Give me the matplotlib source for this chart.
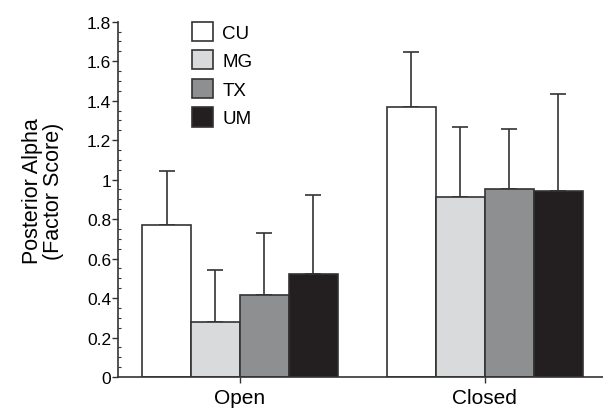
import numpy as np
import matplotlib
matplotlib.use("Agg")
import matplotlib.pyplot as plt
from matplotlib.ticker import MultipleLocator

plt.rcParams['font.family'] = ['Liberation Sans', 'DejaVu Sans']

# data
conditions = ["Open", "Closed"]
groups = ["CU", "MG", "TX", "UM"]
means = {
    "CU": [0.77, 1.37],
    "MG": [0.28, 0.91],
    "TX": [0.415, 0.955],
    "UM": [0.52, 0.94],
}
upper = {
    "CU": [1.045, 1.645],
    "MG": [0.54, 1.265],
    "TX": [0.73, 1.255],
    "UM": [0.92, 1.435],
}
colors = {"CU": "#ffffff", "MG": "#d9dadc", "TX": "#8e8f91", "UM": "#231f20"}

edge = "#333333"

fig = plt.figure(figsize=(6.03, 4.10), dpi=100)
ax = fig.add_axes([0.1957, 0.078, 0.8043, 0.8666])

x = np.arange(len(conditions))
width = 0.2
offsets = [-0.3, -0.1, 0.1, 0.3]

for g, off in zip(groups, offsets):
    m = np.array(means[g])
    err = np.array(upper[g]) - m
    ax.bar(x + off, m, width, color=colors[g], edgecolor=edge, linewidth=1.2,
           label=g, zorder=2)
    ax.errorbar(x + off, m, yerr=[np.zeros_like(err), err], fmt="none",
                ecolor=edge, elinewidth=1.2, capsize=5.5, capthick=1.2, zorder=1)

ax.set_xlim(-0.498, 1.482)
ax.set_ylim(0, 1.8)
ax.set_xticks(x)
ax.set_xticklabels(conditions, fontsize=15)
yt = np.arange(0, 1.81, 0.2)
ax.set_yticks(yt)
ax.set_yticklabels(["0" if v == 0 else ("1" if abs(v - 1) < 1e-9 else "%.1f" % v) for v in yt],
                   fontsize=12.5)
ax.yaxis.set_minor_locator(MultipleLocator(0.05))
ax.tick_params(axis="y", which="major", direction="out", length=4, width=1, color=edge, pad=1)
ax.tick_params(axis="y", which="minor", direction="in", length=2.5, width=0.8, color=edge)
ax.tick_params(axis="x", which="major", direction="out", length=4, width=1, color=edge, pad=4)

for s in ["top", "right"]:
    ax.spines[s].set_visible(False)
for s in ["left", "bottom"]:
    ax.spines[s].set_color(edge)
    ax.spines[s].set_linewidth(1.2)

ax.set_ylabel("Posterior Alpha\n(Factor Score)", fontsize=15.5, linespacing=1.0)
ax.yaxis.set_label_coords(-0.112, 0.526)

leg = ax.legend(loc="upper left", bbox_to_anchor=(0.153, 1.0), frameon=False, fontsize=13.5,
                borderaxespad=0, borderpad=0,
                handlelength=1.1, handleheight=1.2, handletextpad=0.5, labelspacing=0.46)

fig.savefig("out.png", dpi=100)
